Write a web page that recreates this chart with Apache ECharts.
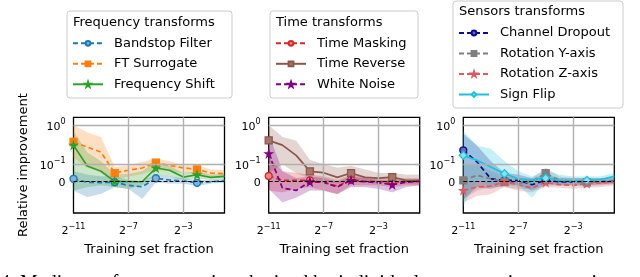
<!DOCTYPE html>
<html><head><meta charset="utf-8">
<script src="https://cdn.jsdelivr.net/npm/echarts@6/dist/echarts.min.js"></script>
<style>html,body{margin:0;padding:0;background:#fff}#c{width:640px;height:277px}</style>
</head><body><div id="c"></div>
<script>
// ---- data ----
const log2Fractions = [-11,-10,-9,-8,-7,-6,-5,-4,-3,-2,-1,0];
const xTickValues = [-11,-7,-3];
const yTickValues = [0,0.1,1];
const panelTitles = ['Frequency transforms','Time transforms','Sensors transforms'];

const bandstopMed = [0.017,-0.003,-0.005,-0.003,-0.021,-0.029,0.02,0.01,0.005,-0.006,0.0,0.007];
const bandstopLo  = [-0.05,-0.088,-0.069,-0.03,-0.04,-0.098,-0.005,-0.01,-0.01,-0.025,-0.01,-0.005];
const bandstopHi  = [0.06,0.04,0.03,0.03,0.01,0.005,0.04,0.03,0.02,0.01,0.01,0.015];
const ftMed = [0.373,0.278,0.206,0.05,0.066,0.079,0.11,0.094,0.08,0.071,0.05,0.046];
const ftLo  = [0.15,0.08,0.06,0.015,0.03,0.045,0.07,0.06,0.05,0.045,0.035,0.035];
const ftHi  = [1.0,0.65,0.5,0.085,0.094,0.115,0.14,0.12,0.094,0.094,0.071,0.066];
const fshiftMed = [0.31,0.09,0.06,0.002,0.0,0.0,0.079,0.066,0.027,0.04,0.025,0.031];
const fshiftLo  = [-0.05,-0.03,-0.02,-0.03,-0.04,-0.02,0.04,0.03,0.01,0.02,0.01,0.015];
const fshiftHi  = [0.7,0.2,0.12,0.04,0.045,0.06,0.12,0.09,0.05,0.06,0.04,0.045];

const maskMed = [0.033,0.008,0.008,0.008,-0.004,-0.025,0.011,0.003,0,0,0,0.003];
const maskLo  = [-0.05,-0.06,-0.04,-0.03,-0.05,-0.07,-0.02,-0.02,-0.02,-0.03,-0.02,-0.02];
const maskHi  = [0.15,0.06,0.05,0.04,0.03,0.01,0.04,0.03,0.02,0.02,0.02,0.02];
const reverseMed = [0.41,0.31,0.17,0.06,0.052,0.025,0.05,0.025,0.021,0.027,0.008,0.008];
const reverseLo  = [0.05,0.1,0.05,0.02,0.0,-0.01,0.0,-0.005,-0.01,-0.005,-0.01,-0.01];
const reverseHi  = [1.0,0.5,0.4,0.13,0.1,0.08,0.09,0.07,0.05,0.05,0.04,0.04];
const noiseMed = [0.187,-0.036,-0.05,0,-0.003,-0.03,0.008,0,-0.005,-0.017,-0.003,0.003];
const noiseLo  = [-0.04,-0.12,-0.09,-0.05,-0.05,-0.07,-0.03,-0.03,-0.04,-0.06,-0.03,-0.02];
const noiseHi  = [0.6,0.06,0.02,0.03,0.02,0.0,0.03,0.02,0.01,0.005,0.01,0.01];

const dropoutMed = [0.229,0.115,0.017,0.008,0.008,-0.017,0.008,0,-0.003,0,0,0.003];
const dropoutLo  = [-0.1,-0.03,-0.04,-0.02,-0.02,-0.05,-0.02,-0.02,-0.02,-0.02,-0.015,-0.01];
const dropoutHi  = [0.6,0.3,0.12,0.05,0.04,0.02,0.04,0.02,0.02,0.02,0.02,0.02];
const rotYMed = [0.008,0.037,0.017,0,-0.01,0,0.05,0.008,0,-0.003,0,0.003];
const rotYLo  = [-0.1,-0.05,-0.03,-0.03,-0.04,-0.04,0.0,-0.02,-0.02,-0.025,-0.02,-0.015];
const rotYHi  = [0.1,0.1,0.06,0.03,0.02,0.02,0.08,0.03,0.02,0.02,0.02,0.02];
const rotZMed = [-0.05,-0.03,-0.025,0,-0.017,-0.036,-0.003,-0.017,-0.021,-0.01,-0.006,0];
const rotZLo  = [-0.12,-0.08,-0.07,-0.03,-0.05,-0.06,-0.03,-0.035,-0.04,-0.035,-0.03,-0.02];
const rotZHi  = [0.0,0.0,0.0,0.02,0.0,-0.01,0.01,0.0,0.0,0.0,0.0,0.005];
const flipMed = [0.17,0.127,0.085,0.046,0.017,0.008,0.021,0.008,0.005,0.008,0.013,0.031];
const flipLo  = [-0.15,0.01,-0.02,0.01,-0.02,-0.09,0.0,-0.01,-0.01,-0.01,0.0,0.01];
const flipHi  = [0.7,0.3,0.25,0.12,0.06,0.03,0.06,0.04,0.03,0.03,0.03,0.05];

// ---- styling / layout ----
const FONT = 'DejaVu Sans';
const STAR = 'path://M50,0 L61,35 L98,35 L68,57 L79,91 L50,70 L21,91 L32,57 L2,35 L39,35 Z';
const panels = [
  {left:73.5, series:[
    {name:'Bandstop Filter', med:bandstopMed, lo:bandstopLo, hi:bandstopHi, color:'#1f77b4', dash:true, sym:'circle', size:7, fill:'#7fb3d9'},
    {name:'FT Surrogate', med:ftMed, lo:ftLo, hi:ftHi, color:'#ff7f0e', dash:true, sym:'rect', size:7, fill:'#ff7f0e'},
    {name:'Frequency Shift', med:fshiftMed, lo:fshiftLo, hi:fshiftHi, color:'#2ca02c', dash:false, sym:STAR, size:7, fill:'#2ca02c'}]},
  {left:268.7, series:[
    {name:'Time Masking', med:maskMed, lo:maskLo, hi:maskHi, color:'#d62728', dash:true, sym:'circle', size:7, fill:'#ea8585'},
    {name:'Time Reverse', med:reverseMed, lo:reverseLo, hi:reverseHi, color:'#8c564b', dash:false, sym:'rect', size:7, fill:'#a8776c'},
    {name:'White Noise', med:noiseMed, lo:noiseLo, hi:noiseHi, color:'#800080', dash:true, sym:STAR, size:7, fill:'#800080'}]},
  {left:463.3, series:[
    {name:'Channel Dropout', med:dropoutMed, lo:dropoutLo, hi:dropoutHi, color:'#0c0c86', dash:true, sym:'circle', size:7, fill:'#6a6ab8'},
    {name:'Rotation Y-axis', med:rotYMed, lo:rotYLo, hi:rotYHi, color:'#7f7f7f', dash:true, sym:'rect', size:7, fill:'#7f7f7f'},
    {name:'Rotation Z-axis', med:rotZMed, lo:rotZLo, hi:rotZHi, color:'#dd5a61', dash:true, sym:STAR, size:7, fill:'#dd5a61'},
    {name:'Sign Flip', med:flipMed, lo:flipLo, hi:flipHi, color:'#1fc0dc', dash:false, sym:'diamond', size:8, fill:'#8fe0ee'}]}
];
const legendBoxes = [
  {x:67, y:11, w:165, h:87, titleY:23, itemsTop:36.3},
  {x:270, y:11, w:148, h:87, titleY:23, itemsTop:36.3},
  {x:453, y:1, w:170, h:107, titleY:12, itemsTop:26}
];

// symlog transform (linear within +-0.1)
const LIN = 0.1, LINSCALE = 0.446;
function sym(v){ const a=Math.abs(v); return a<=LIN ? v/LIN*LINSCALE : Math.sign(v)*(LINSCALE+Math.log10(a/LIN)); }
const yMin = sym(-0.226), yMax = sym(1.6);

function ylab(val){
  if (Math.abs(val-sym(0))<1e-6) return '{b|0}';
  if (Math.abs(val-sym(0.1))<1e-6) return '{b|10}{s|−1}';
  if (Math.abs(val-sym(1))<1e-6) return '{b|10}{s|0}';
  return '';
}
const richTick = {
  b:{fontFamily:FONT, fontSize:11, color:'#000', lineHeight:14, verticalAlign:'bottom'},
  s:{fontFamily:FONT, fontSize:8, color:'#000', lineHeight:8, verticalAlign:'top', padding:[0,0,6,0]}
};

function bandRender(color){
  return function(params, api){
    if (params.dataIndex !== 0) return null;
    const top=[], bot=[];
    for (let j=0;j<log2Fractions.length;j++){
      top.push(api.coord([api.value(0,j), api.value(2,j)]));
      bot.push(api.coord([api.value(0,j), api.value(1,j)]));
    }
    const pts = top.concat(bot.reverse());
    return {type:'polygon', shape:{points:pts},
      style:{fill:color, opacity:0.25, stroke:color, lineWidth:0.8, strokeOpacity:0.2}};
  };
}

const grids=[], xAxes=[], yAxes=[], series=[], legends=[], graphics=[];
panels.forEach((p,pi)=>{
  grids.push({left:p.left, top:117.3, width:151, height:95.7, show:true, borderColor:'#000', borderWidth:1.3, backgroundColor:'transparent'});
  xAxes.push({type:'value', gridIndex:pi, min:-11, max:0,
    name:'Training set fraction', nameLocation:'middle', nameGap:30,
    nameTextStyle:{fontFamily:FONT, fontSize:13, color:'#000'},
    axisLine:{show:false}, splitLine:{show:false},
    axisTick:{show:true, customValues:xTickValues, length:5, lineStyle:{color:'#000', width:1.1}},
    axisLabel:{customValues:xTickValues, margin:10, formatter:v=>'{b|2}{s|−'+Math.abs(v)+'}', rich:richTick}});
  yAxes.push({type:'value', gridIndex:pi, min:yMin, max:yMax,
    name: pi===0 ? 'Relative improvement' : '', nameLocation:'middle', nameGap:43,
    nameTextStyle:{fontFamily:FONT, fontSize:13, color:'#000'},
    axisLine:{show:false}, splitLine:{show:false},
    axisTick:{show:true, customValues:yTickValues.map(sym), length:5, lineStyle:{color:'#000', width:1.1}},
    axisLabel:{customValues:yTickValues.map(sym), margin:8, formatter:ylab, rich:richTick}});
  // bands
  p.series.forEach((s)=>{
    series.push({type:'custom', name:'_band_'+s.name, xAxisIndex:pi, yAxisIndex:pi, silent:true, z:1,
      renderItem: bandRender(s.color), encode:{x:0, y:[1,2]},
      data: log2Fractions.map((x,i)=>[x, sym(s.lo[i]), sym(s.hi[i])])});
  });
  // grid + zero line
  const gridStyle = {color:'#b0b0b0', width:1.4, type:'solid'};
  series.push({type:'line', name:'_grid'+pi, xAxisIndex:pi, yAxisIndex:pi, data:[], z:2,
    markLine:{silent:true, symbol:['none','none'], label:{show:false}, animation:false,
      data:[
        {xAxis:-7, lineStyle:gridStyle},{xAxis:-3, lineStyle:gridStyle},
        {yAxis:sym(0.1), lineStyle:gridStyle},{yAxis:sym(1), lineStyle:gridStyle},
        {yAxis:0, lineStyle:{color:'#000', width:1.2, type:[4,2]}}
      ]}});
  // medians
  p.series.forEach((s)=>{
    series.push({type:'line', name:s.name, xAxisIndex:pi, yAxisIndex:pi, z:3,
      data: log2Fractions.map((x,i)=> i%3===0 ? [x, sym(s.med[i])] : {value:[x, sym(s.med[i])], symbol:'none'}),
      symbol:s.sym, symbolSize:s.size, showAllSymbol:true,
      lineStyle:{color:s.color, width:1.7, type: s.dash ? [5,3] : 'solid'},
      itemStyle:{color:s.fill, borderColor:s.color, borderWidth:1.3}});
  });
  const lb = legendBoxes[pi];
  graphics.push({type:'rect', shape:{x:lb.x, y:lb.y, width:lb.w, height:lb.h, r:3},
    style:{fill:'rgba(255,255,255,0.85)', stroke:'#cccccc', lineWidth:1}, z:10});
  graphics.push({type:'text', x:lb.x+6, y:lb.titleY, z:11,
    style:{text:panelTitles[pi], font:'13px "DejaVu Sans"', fill:'#000', verticalAlign:'middle'}});
  legends.push({orient:'vertical', left:lb.x+5, top:lb.itemsTop, padding:0, itemWidth:30, itemHeight:6, itemGap:6.5,
    selectedMode:false, z:12, data:p.series.map(s=>s.name),
    textStyle:{fontFamily:FONT, fontSize:13, color:'#000', lineHeight:14, padding:[0,0,0,6]}});
});
graphics.push({type:'text', x:0, y:274, z:20,
  style:{text:'4. Median performance gains obtained by individual augmentation strategies on the', font:'20px "Liberation Serif"', fill:'#000', verticalAlign:'top'}});

const chart = echarts.init(document.getElementById('c'), null, {renderer:'canvas'});
chart.setOption({animation:false, backgroundColor:'#fff', grid:grids, xAxis:xAxes, yAxis:yAxes, series, legend:legends, graphic:graphics});
</script></body></html>
